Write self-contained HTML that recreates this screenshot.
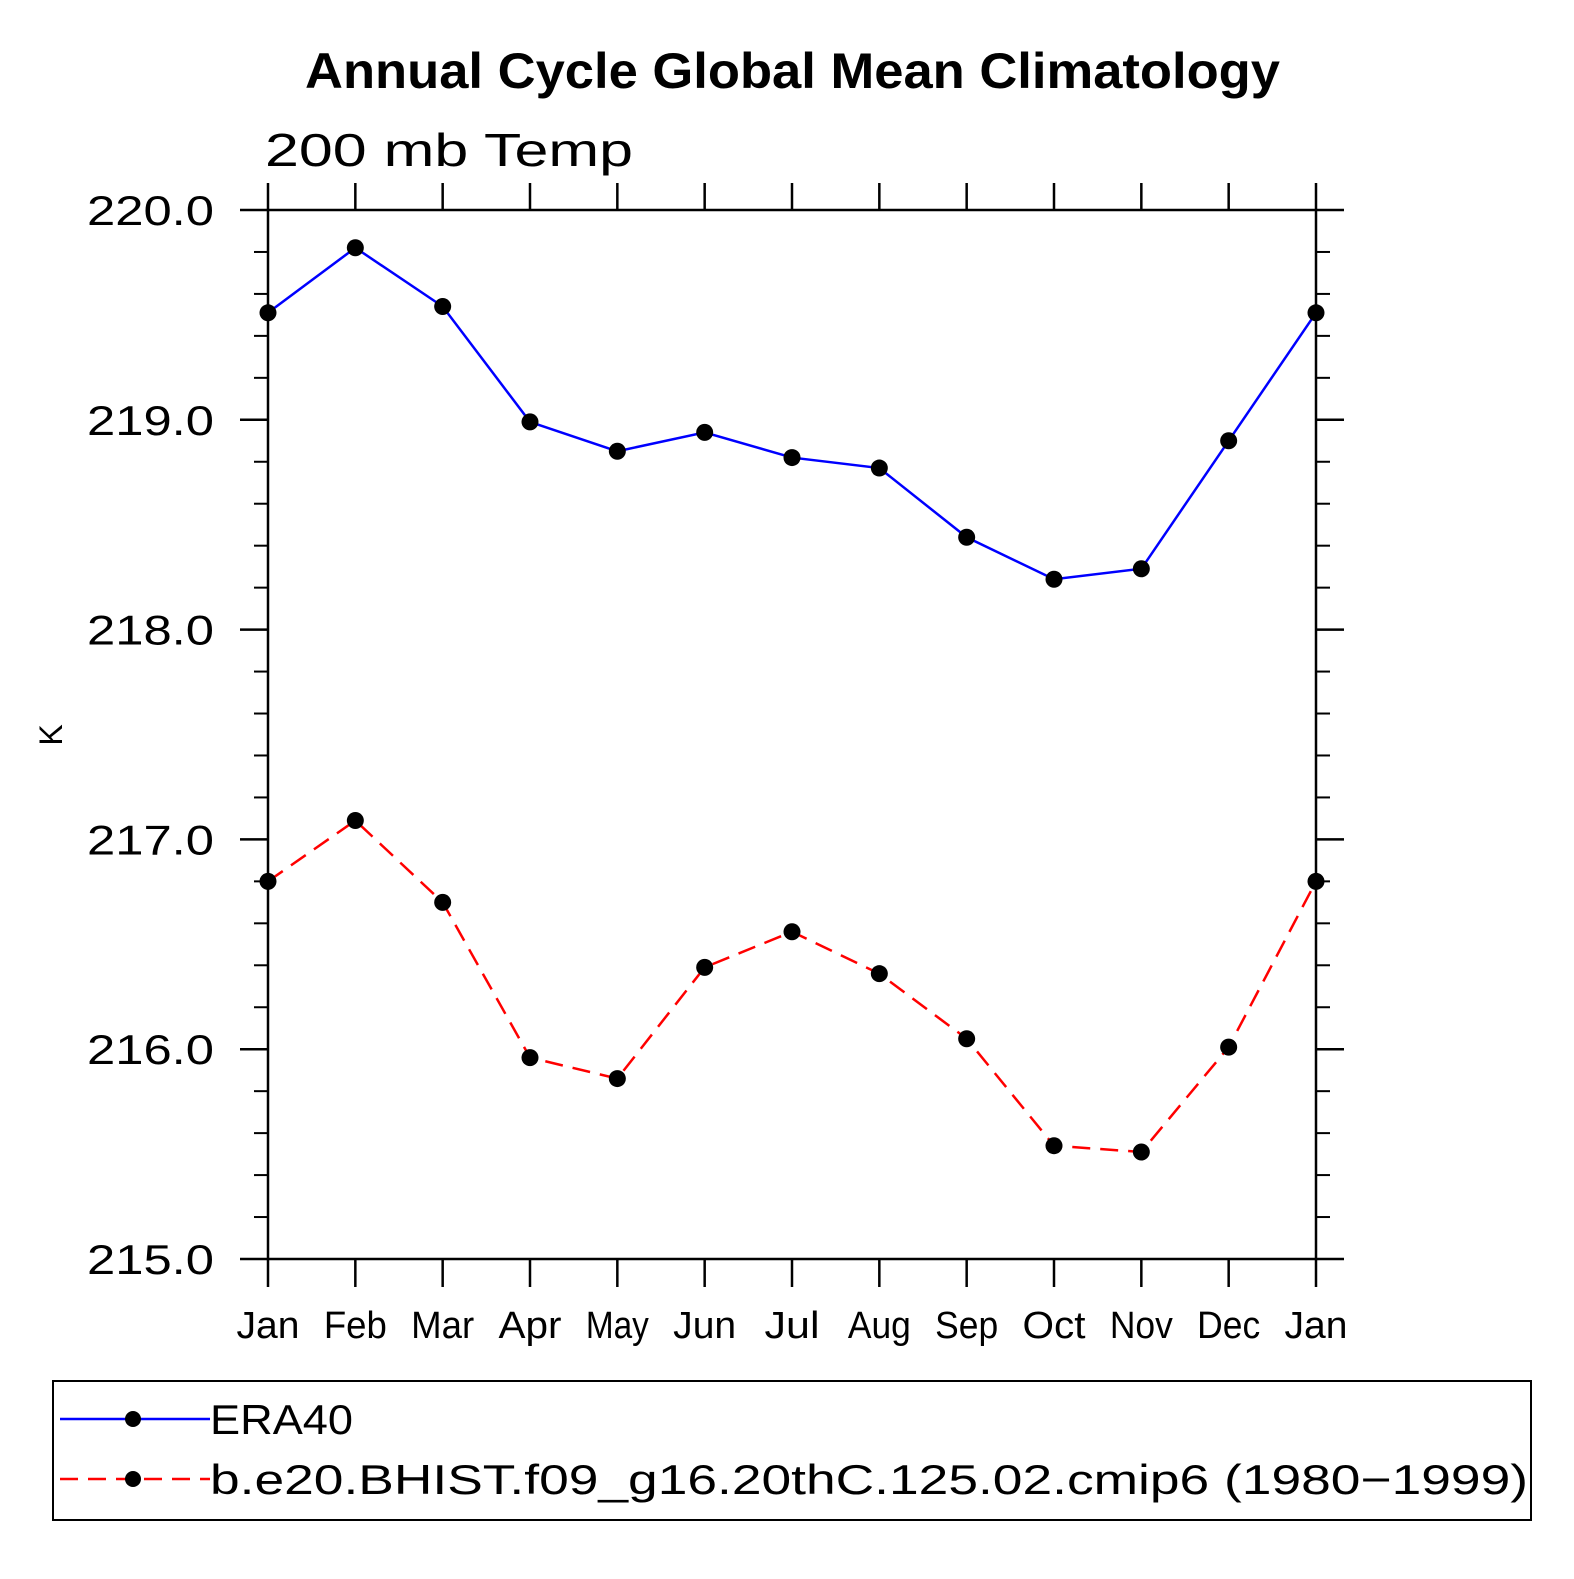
<!DOCTYPE html>
<html><head><meta charset="utf-8"><style>
html,body{margin:0;padding:0;background:#fff;}
svg text{font-family:"Liberation Sans","DejaVu Sans",sans-serif;}
</style></head><body>
<svg id="chart" width="1574" height="1574" xmlns="http://www.w3.org/2000/svg">
<text x="305" y="88" font-size="50" font-weight="bold" textLength="975" lengthAdjust="spacingAndGlyphs">Annual Cycle Global Mean Climatology</text>
<text x="265" y="166" font-size="46" font-weight="300" textLength="368" lengthAdjust="spacingAndGlyphs">200 mb Temp</text>
<text transform="translate(62,735) rotate(-90)" text-anchor="middle" font-size="32" font-weight="300">K</text>
<g id="axes"></g>
<g id="series"></g>
<g>
<rect x="53" y="1381" width="1478" height="139" fill="none" stroke="#000" stroke-width="2"/>
<g>
<line x1="60" y1="1419" x2="210" y2="1419" stroke="#0000ff" stroke-width="2.5"/>
<circle cx="133" cy="1419" r="8"/>
<text x="210" y="1434" font-size="42" font-weight="300" textLength="143" lengthAdjust="spacingAndGlyphs">ERA40</text>
</g>
<g>
<line x1="60" y1="1479" x2="210" y2="1479" stroke="#ff0000" stroke-width="2.5" stroke-dasharray="18,10"/>
<circle cx="133" cy="1479" r="8"/>
<text x="210" y="1494" font-size="42" font-weight="300" textLength="1318" lengthAdjust="spacingAndGlyphs">b.e20.BHIST.f09_g16.20thC.125.02.cmip6 (1980−1999)</text>
</g>
</g>
</svg>
<script>
const months = ["Jan","Feb","Mar","Apr","May","Jun","Jul","Aug","Sep","Oct","Nov","Dec","Jan"];
const era40 = [219.51,219.82,219.54,218.99,218.85,218.94,218.82,218.77,218.44,218.24,218.29,218.90,219.51];
const model = [216.80,217.09,216.70,215.96,215.86,216.39,216.56,216.36,216.05,215.54,215.51,216.01,216.80];
const yTicks = [215,216,217,218,219,220];
const yTickLabels = ["215.0","216.0","217.0","218.0","219.0","220.0"];

const NS="http://www.w3.org/2000/svg";
const L=268,R=1316,T=210,B=1259,yMin=215,yMax=220;
const xs=i=>L+(R-L)*i/(months.length-1);
const ys=v=>B-(v-yMin)/(yMax-yMin)*(B-T);
function mk(tag,attrs,parent){const e=document.createElementNS(NS,tag);for(const k in attrs)e.setAttribute(k,attrs[k]);parent.appendChild(e);return e;}
const ax=document.getElementById('axes');
const frame=mk('rect',{x:L,y:T,width:R-L,height:B-T,fill:'none',stroke:'#000','stroke-width':2.5},ax);


yTicks.forEach((v,i)=>{
  const y=ys(v);
  mk('line',{x1:240,y1:y,x2:L,y2:y,stroke:'#000','stroke-width':2.5},ax);
  mk('line',{x1:R,y1:y,x2:1344,y2:y,stroke:'#000','stroke-width':2.5},ax);
  const t=mk('text',{x:87,y:y+15,'font-size':42,'font-weight':300,textLength:127,lengthAdjust:'spacingAndGlyphs'},ax);
  t.textContent=yTickLabels[i];
  
  
  if(i<yTicks.length-1){for(let k=1;k<5;k++){const ym=ys(v+k*0.2);
    mk('line',{x1:254,y1:ym,x2:L,y2:ym,stroke:'#000','stroke-width':2},ax);
    mk('line',{x1:R,y1:ym,x2:1330,y2:ym,stroke:'#000','stroke-width':2},ax);}}
});
months.forEach((m,i)=>{
  const x=xs(i);
  mk('line',{x1:x,y1:183,x2:x,y2:T,stroke:'#000','stroke-width':2.5},ax);
  mk('line',{x1:x,y1:B,x2:x,y2:1287,stroke:'#000','stroke-width':2.5},ax);
  const w=m.length*21+(m==="Jul"?-8:0);
  const t=mk('text',{x:x-w/2,y:1338,'font-size':38,'font-weight':300,textLength:w,lengthAdjust:'spacingAndGlyphs'},ax);
  t.textContent=m;
  
  
});
const sg=document.getElementById('series');
function drawSeries(vals,color,dash,name){
  const g=mk('g',{},sg);
  
  
  const pts=vals.map((v,i)=>xs(i)+','+ys(v)).join(' ');
  const pl=mk('polyline',{points:pts,fill:'none',stroke:color,'stroke-width':2.5,'stroke-dasharray':dash},g);
  
  
  vals.forEach((v,i)=>{
    const c=mk('circle',{cx:xs(i),cy:ys(v),r:8.5,fill:'#000'},g);
    
    
  });
}
drawSeries(era40,'#0000ff','none','era40-series');
drawSeries(model,'#ff0000','18,10','model-series');
</script>
</body></html>
